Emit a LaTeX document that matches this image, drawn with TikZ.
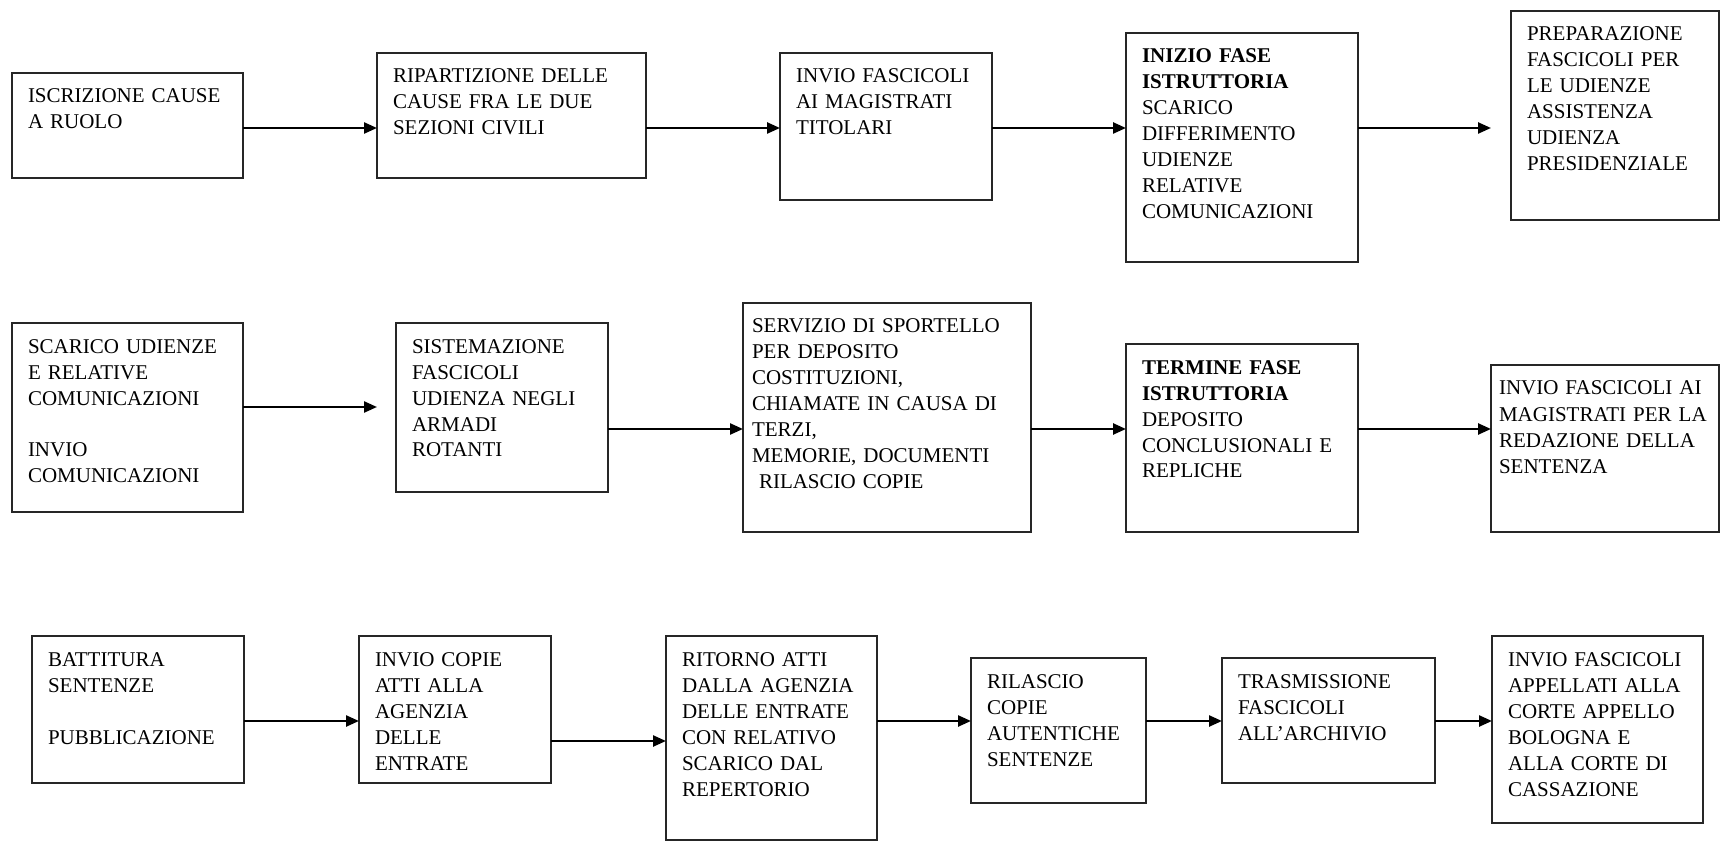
\documentclass[tikz,border=0pt]{standalone}
\usepackage{fontspec}
\setmainfont{Liberation Serif}
\usetikzlibrary{arrows.meta, positioning}

\begin{document}
\begin{tikzpicture}[
    x=1pt, y=-1pt,
    stage/.style={draw=black!85, line width=1.6pt, rectangle, anchor=north west, outer sep=0pt,
        inner xsep=16pt, inner ysep=0pt, align=left, text height=30pt,
        font=\fontsize{21}{26}\selectfont},
    arrow/.style={-{Triangle[length=13pt, width=11pt]}, line width=2.4pt}
]
    \useasboundingbox (0,0) rectangle (1722,842);

    % Nodes
    \node[stage, text width=199pt, text depth=75pt] (iscr) at (12,73) {ISCRIZIONE CAUSE\\A RUOLO};
    \node[stage, text width=237pt, text depth=95pt] (ripart) at (377,53) {RIPARTIZIONE DELLE\\CAUSE FRA LE DUE\\SEZIONI CIVILI};
    \node[stage, text width=180pt, text depth=117pt] (invio) at (780,53) {INVIO FASCICOLI\\AI MAGISTRATI\\TITOLARI};
    \node[stage, text width=200pt, text depth=199pt] (inizio) at (1126,33) {\textbf{INIZIO FASE}\\\textbf{ISTRUTTORIA}\\SCARICO\\DIFFERIMENTO\\UDIENZE\\RELATIVE\\COMUNICAZIONI};
    \node[stage, text width=176pt, text depth=179pt] (prep) at (1511,11) {PREPARAZIONE\\FASCICOLI PER\\LE UDIENZE\\ASSISTENZA\\UDIENZA\\PRESIDENZIALE};

    \node[stage, text width=199pt, text depth=159pt] (scarico) at (12,323) {SCARICO UDIENZE\\E RELATIVE\\COMUNICAZIONI\\[26pt]INVIO\\COMUNICAZIONI};
    \node[stage, text width=180pt, text depth=139pt] (sistem) at (396,323) {SISTEMAZIONE\\FASCICOLI\\UDIENZA NEGLI\\ARMADI\\ROTANTI};
    \node[stage, inner xsep=9pt, text width=270pt, text depth=199pt] (sport) at (743,303) {SERVIZIO DI SPORTELLO\\PER DEPOSITO\\COSTITUZIONI,\\CHIAMATE IN CAUSA DI\\TERZI,\\MEMORIE, DOCUMENTI\\\ RILASCIO COPIE};
    \node[stage, text width=200pt, text depth=158pt] (termine) at (1126,344) {\textbf{TERMINE FASE}\\\textbf{ISTRUTTORIA}\\DEPOSITO\\CONCLUSIONALI E\\REPLICHE};
    \node[stage, inner xsep=8pt, text width=212pt, text depth=137pt] (redaz) at (1491,365) {INVIO FASCICOLI AI\\MAGISTRATI PER LA\\REDAZIONE DELLA\\SENTENZA};

    \node[stage, text width=180pt, text depth=117pt] (battit) at (32,636) {BATTITURA\\SENTENZE\\[26pt]PUBBLICAZIONE};
    \node[stage, text width=160pt, text depth=117pt] (copie) at (359,636) {INVIO COPIE\\ATTI ALLA\\AGENZIA\\DELLE\\ENTRATE};
    \node[stage, text width=179pt, text depth=174pt] (ritorno) at (666,636) {RITORNO ATTI\\DALLA AGENZIA\\DELLE ENTRATE\\CON RELATIVO\\SCARICO DAL\\REPERTORIO};
    \node[stage, text width=143pt, text depth=115pt] (rilascio) at (971,658) {RILASCIO\\COPIE\\AUTENTICHE\\SENTENZE};
    \node[stage, text width=181pt, text depth=95pt] (trasm) at (1222,658) {TRASMISSIONE\\FASCICOLI\\ALL’ARCHIVIO};
    \node[stage, text width=179pt, text depth=157pt] (appell) at (1492,636) {INVIO FASCICOLI\\APPELLATI ALLA\\CORTE APPELLO\\BOLOGNA E\\ALLA CORTE DI\\CASSAZIONE};

    % Arrow rows
    \coordinate (r1) at (0,128);
    \coordinate (r2a) at (0,407);
    \coordinate (r2b) at (0,429);
    \coordinate (r3a) at (0,721);
    \coordinate (r3b) at (0,741);

    % Arrows
    \draw[arrow] (iscr.east |- r1) -- (ripart.west |- r1);
    \draw[arrow] (ripart.east |- r1) -- (invio.west |- r1);
    \draw[arrow] (invio.east |- r1) -- (inizio.west |- r1);
    \draw[arrow] (inizio.east |- r1) -- ([xshift=-20pt]prep.west |- r1);

    \draw[arrow] (scarico.east |- r2a) -- ([xshift=-19pt]sistem.west |- r2a);
    \draw[arrow] (sistem.east |- r2b) -- (sport.west |- r2b);
    \draw[arrow] (sport.east |- r2b) -- (termine.west |- r2b);
    \draw[arrow] (termine.east |- r2b) -- (redaz.west |- r2b);

    \draw[arrow] (battit.east |- r3a) -- (copie.west |- r3a);
    \draw[arrow] (copie.east |- r3b) -- (ritorno.west |- r3b);
    \draw[arrow] (ritorno.east |- r3a) -- (rilascio.west |- r3a);
    \draw[arrow] (rilascio.east |- r3a) -- (trasm.west |- r3a);
    \draw[arrow] (trasm.east |- r3a) -- (appell.west |- r3a);
\end{tikzpicture}
\end{document}
